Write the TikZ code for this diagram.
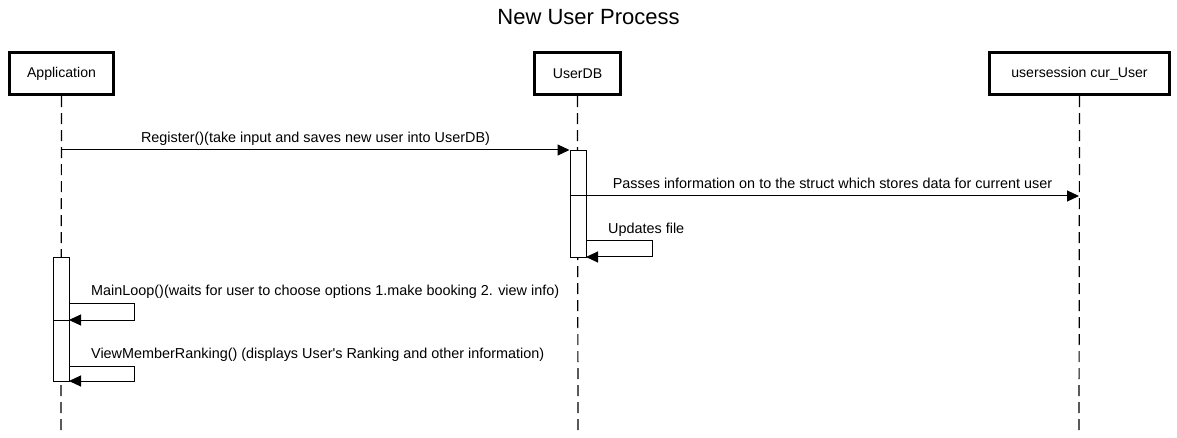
\documentclass[tikz,border=0pt]{standalone}
\usepackage{fontspec}
\setmainfont{Liberation Sans}
\usetikzlibrary{arrows.meta}
\begin{document}
\begin{tikzpicture}[x=1pt,y=-1pt,
  participant/.style={draw,line width=2.8pt,minimum height=42.5pt,inner sep=0pt,font=\fontsize{14.1}{16}\selectfont},
  lifeline/.style={line width=1.2pt,dash pattern=on 11pt off 6pt},
  act/.style={draw,fill=white,line width=1pt,minimum width=16pt,inner sep=0pt},
  msg/.style={line width=1pt,-{Triangle[length=12pt,width=11pt]}},
  plain/.style={line width=1pt},
  lbl/.style={font=\fontsize{14.4}{17}\selectfont,inner sep=0pt}]
\useasboundingbox (0,0) rectangle (1177,438);
\node[font=\fontsize{22}{26}\selectfont] (title) at (588.5,17) {New User Process};
\node[participant,minimum width=104.2pt] (app) at (61.5,73.5) {Application};
\node[participant,minimum width=86.2pt] (udb) at (577.5,73.5) {UserDB};
\node[participant,minimum width=180.2pt] (ses) at (1079.5,73.5) {usersession cur\_User};
\coordinate (append) at (61,435);
\coordinate (udbend) at (578,435);
\coordinate (sesend) at (1079,435);
\draw[lifeline] (app.south) -- (append);
\draw[lifeline] (udb.south) -- (udbend);
\draw[lifeline] (ses.south) -- (sesend);
% activations
\node[act,minimum height=107pt,anchor=north] (ua) at (578,150) {};
\node[act,minimum height=124pt,anchor=north] (aa) at (61,257) {};
% Register
\coordinate (r0) at (61,150);
\draw[msg] (r0) -- (ua.north west);
\node[lbl,anchor=base] (l1) at (315.5,142.5) {Register()(take input and saves new user into UserDB)};
% Passes
\coordinate (p0) at (570,196);
\coordinate (p1) at (1079,196);
\draw[msg] (p0) -- (p1);
\node[lbl,anchor=base] (l2) at (832.5,188.5) {Passes information on to the struct which stores data for current user};
% Updates file
\coordinate (u0) at (586,241);
\coordinate (u1) at (652,241);
\coordinate (u2) at (652,257);
\coordinate (u3) at (586,257);
\draw[msg] (u0) -- (u1) -- (u2) -- (u3);
\node[lbl,anchor=base west] (l3) at (608,233.5) {Updates file};
% MainLoop
\coordinate (m0) at (69,303);
\coordinate (m1) at (134,303);
\coordinate (m2) at (134,320);
\coordinate (m3) at (69,320);
\coordinate (m4) at (53,320);
\draw[plain] (m4) -- (m3);
\draw[msg] (m0) -- (m1) -- (m2) -- (m3);
\node[lbl,anchor=base west] (l4) at (91,295.5) {MainLoop()(waits for user to choose options 1.make booking 2. view info)};
% ViewMemberRanking
\coordinate (v0) at (69,366);
\coordinate (v1) at (134,366);
\coordinate (v2) at (134,381);
\coordinate (v3) at (69,381);
\draw[msg] (v0) -- (v1) -- (v2) -- (v3);
\node[lbl,anchor=base west] (l5) at (91,358.5) {ViewMemberRanking() (displays User\textquotesingle s Ranking and other information)};
\end{tikzpicture}
\end{document}
